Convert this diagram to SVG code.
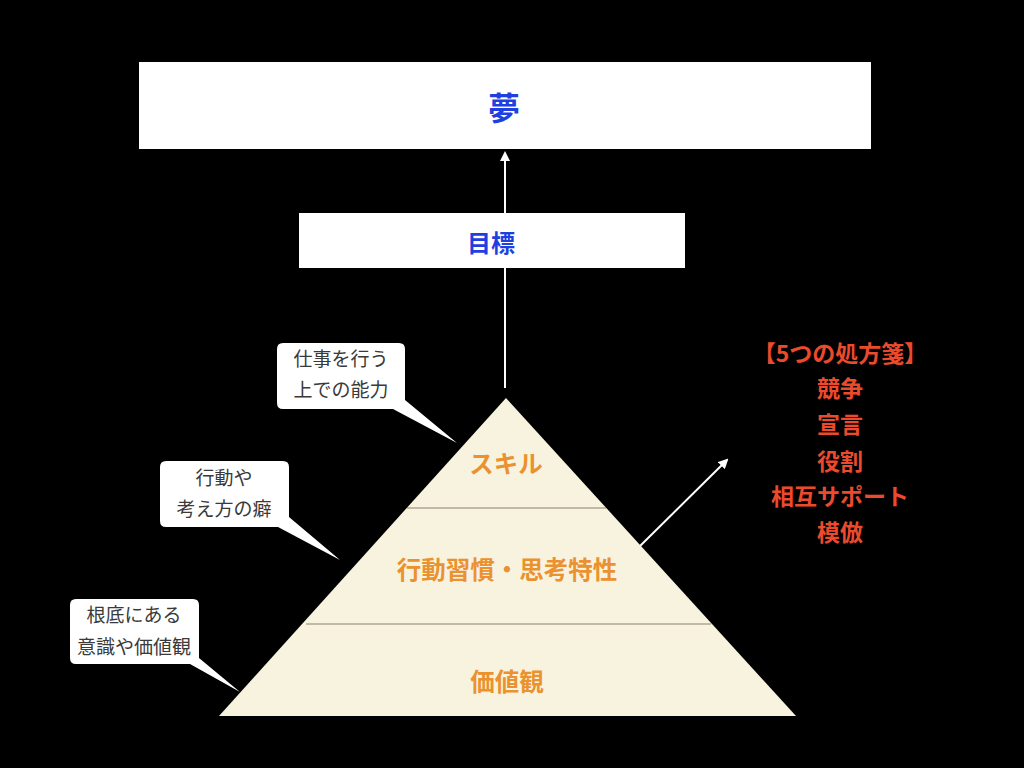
<svg xmlns="http://www.w3.org/2000/svg" width="1024" height="768" viewBox="0 0 1024 768">
<defs>
<style>
.box{fill:#ffffff;}
.blue{font-family:"Noto Sans CJK JP","Noto Sans",sans-serif;font-weight:bold;fill:#1f3fe0;text-anchor:middle;dominant-baseline:central;}
.orange{font-family:"Noto Sans CJK JP","Noto Sans",sans-serif;font-weight:bold;fill:#eb9230;font-size:24.5px;text-anchor:middle;dominant-baseline:central;}
.red{font-family:"Noto Sans CJK JP","Noto Sans",sans-serif;font-weight:bold;fill:#ec4a2c;font-size:23px;text-anchor:middle;dominant-baseline:central;}
.note{font-family:"Noto Sans CJK JP","Noto Sans",sans-serif;fill:#3a3a3a;font-size:19px;text-anchor:middle;dominant-baseline:central;}
.conn{stroke:#ffffff;stroke-width:2;fill:none;}
.layer{stroke:#8c826e;stroke-width:1.2;}
</style>
<marker id="ah" viewBox="0 0 10 10" refX="8" refY="5" markerWidth="5" markerHeight="5" orient="auto" markerUnits="strokeWidth">
<path d="M0,0 L10,5 L0,10 z" fill="#ffffff"/>
</marker>
</defs>
<rect x="0" y="0" width="1024" height="768" fill="#000000"/>

<g id="connectors">
<line class="conn" x1="505" y1="388" x2="505" y2="153" marker-end="url(#ah)"/>
<line class="conn" x1="637" y1="549" x2="727" y2="460" marker-end="url(#ah)"/>
</g>

<g id="dream">
<rect class="box" x="139" y="62" width="732" height="87"/>
<text class="blue" x="504" y="106" font-size="32">夢</text>
</g>

<g id="goal">
<rect class="box" x="299" y="213" width="386" height="55"/>
<text class="blue" x="491" y="241" font-size="24">目標</text>
</g>

<g id="pyramid">
<polygon points="506,398 796,716 219,716" fill="#f8f3df"/>
<line class="layer" x1="407" y1="508" x2="606" y2="508"/>
<line class="layer" x1="306" y1="624" x2="711" y2="624"/>
<text class="orange" x="506" y="462">スキル</text>
<text class="orange" x="507" y="568">行動習慣・思考特性</text>
<text class="orange" x="507" y="680">価値観</text>
</g>

<g id="note-skill">
<path d="M283,343 H399 Q405,343 405,349 V400 L457,443 L393,409 H283 Q277,409 277,403 V349 Q277,343 283,343 Z" fill="#ffffff"/>
<text class="note" x="341" y="357">仕事を行う</text>
<text class="note" x="341" y="388">上での能力</text>
</g>

<g id="note-habit">
<path d="M166,461 H283 Q289,461 289,467 V517 L340,560 L278,527 H166 Q160,527 160,521 V467 Q160,461 166,461 Z" fill="#ffffff"/>
<text class="note" x="224" y="476">行動や</text>
<text class="note" x="224" y="507">考え方の癖</text>
</g>

<g id="note-values">
<path d="M76,599 H193 Q199,599 199,605 V658 L240,692 L190,664 H76 Q70,664 70,658 V605 Q70,599 76,599 Z" fill="#ffffff"/>
<text class="note" x="134" y="613">根底にある</text>
<text class="note" x="134" y="645">意識や価値観</text>
</g>

<g id="prescriptions">
<text class="red" x="840" y="352">【5つの処方箋】</text>
<text class="red" x="840" y="387">競争</text>
<text class="red" x="840" y="423">宣言</text>
<text class="red" x="840" y="460">役割</text>
<text class="red" x="840" y="495">相互サポート</text>
<text class="red" x="840" y="531">模倣</text>
</g>
</svg>
